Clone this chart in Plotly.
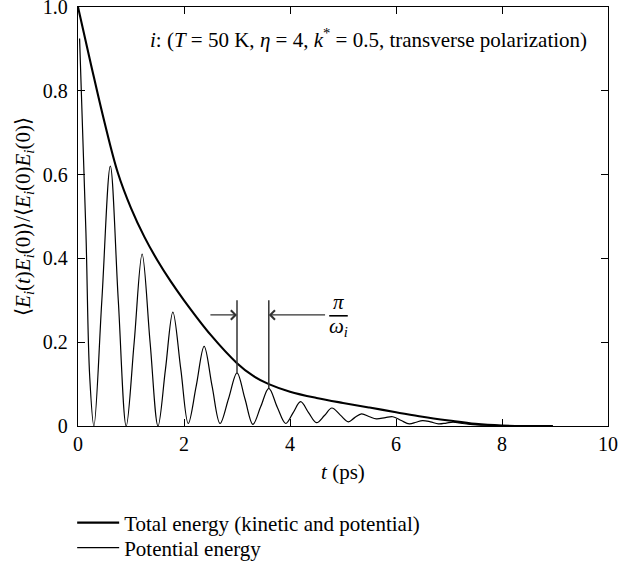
import plotly.graph_objects as go

# ---- data ----
t_total = [0, 0.25, 0.5, 0.75, 1.0, 1.25, 1.5, 1.75, 2.0, 2.5,
           3.0, 3.3, 3.6, 4.0, 4.5, 5.0, 5.5, 6.0, 6.5, 7.0, 7.5, 8.0, 8.5, 8.96]
e_total = [1.0, 0.86, 0.725, 0.605, 0.52, 0.452, 0.395, 0.345, 0.30, 0.218,
           0.150, 0.120, 0.100, 0.082, 0.067, 0.055, 0.044, 0.033, 0.022, 0.013,
           0.005, 0.001, 0.0, 0.0]

t_pot = [0.03, 0.15, 0.22, 0.30, 0.45, 0.61, 0.76, 0.91, 1.06, 1.21, 1.36, 1.51, 1.65,
         1.79, 1.94, 2.08, 2.23, 2.38, 2.53, 2.68, 2.84, 3.0, 3.15, 3.30, 3.45, 3.60,
         3.76, 3.92, 4.06, 4.20, 4.35, 4.50, 4.65, 4.79, 4.95, 5.10, 5.22, 5.35, 5.50,
         5.63, 5.80, 5.94, 6.10, 6.25, 6.38, 6.50, 6.65, 6.80, 6.95, 7.08, 7.25, 7.4,
         7.7, 8.0, 8.5, 8.96]
e_pot = [0.925, 0.46, 0.12, 0.0, 0.30, 0.62, 0.30, 0.0, 0.20, 0.41, 0.20, 0.0, 0.135,
         0.272, 0.135, 0.006, 0.095, 0.19, 0.095, 0.006, 0.065, 0.127, 0.065, 0.004,
         0.047, 0.09, 0.045, 0.006, 0.032, 0.058, 0.032, 0.008, 0.025, 0.043, 0.026,
         0.010, 0.020, 0.029, 0.022, 0.017, 0.020, 0.022, 0.013, 0.005, 0.009, 0.013,
         0.010, 0.005, 0.007, 0.009, 0.006, 0.004, 0.002, 0.001, 0.0, 0.0]

x_ticks = [0, 2, 4, 6, 8, 10]
x_ticktext = ["0", "2", "4", "6", "8", "10"]
y_ticks = [0, 0.2, 0.4, 0.6, 0.8, 1.0]
y_ticktext = ["0", "0.2", "0.4", "0.6", "0.8", "1.0"]

names = ["Total energy (kinetic and potential)", "Potential energy"]

# period markers (pi / omega_i)
marker_t = [3.0, 3.6]
marker_bottom = [0.127, 0.09]
marker_top = 0.30

FONT = "Liberation Serif, Times New Roman, serif"
FS = 20

fig = go.Figure()
fig.add_trace(go.Scatter(x=t_total, y=e_total, mode="lines", name=names[0], legend="legend",
                         line=dict(color="black", width=2.1, shape="spline", smoothing=1.0)))
fig.add_trace(go.Scatter(x=t_pot, y=e_pot, mode="lines", name=names[1], legend="legend2",
                         line=dict(color="black", width=1.2, shape="spline", smoothing=1.0)))

for tt, yb in zip(marker_t, marker_bottom):
    fig.add_shape(type="line", x0=tt, x1=tt, y0=yb, y1=marker_top,
                  line=dict(color="#333333", width=1.5))

# arrows
fig.add_annotation(x=marker_t[0], y=0.265, ax=2.47, ay=0.265, axref="x", ayref="y",
                   text="", showarrow=True, arrowhead=4, arrowsize=1.4, arrowwidth=1.3,
                   arrowcolor="#333333", standoff=0)
fig.add_annotation(x=marker_t[1], y=0.265, ax=4.69, ay=0.265, axref="x", ayref="y",
                   text="", showarrow=True, arrowhead=4, arrowsize=1.4, arrowwidth=1.3,
                   arrowcolor="#333333", standoff=0)
# pi / omega_i fraction
fig.add_annotation(x=4.91, y=0.297, text="<i>π</i>", showarrow=False,
                   font=dict(family=FONT, size=FS + 1, color="black"))
fig.add_shape(type="line", x0=4.74, x1=5.09, y0=0.263, y1=0.263,
              line=dict(color="black", width=1.6))
fig.add_annotation(x=4.91, y=0.236, text="<i>ω<sub>i</sub></i>", showarrow=False,
                   font=dict(family=FONT, size=FS + 1, color="black"))

fig.add_annotation(x=9.64, y=0.925, xanchor="right",
                   text="<i>i</i>: (<i>T</i> = 50 K, <i>η</i> = 4, <i>k</i><sup>*</sup> = 0.5, transverse polarization)",
                   showarrow=False, font=dict(family=FONT, size=FS + 1, color="black"))

axis_common = dict(showline=True, linecolor="black", linewidth=1.3, mirror="allticks",
                   ticks="inside", ticklen=7, tickwidth=1.2, tickcolor="black",
                   showgrid=False, zeroline=False, automargin=False,
                   tickfont=dict(family=FONT, size=FS, color="black"))

fig.update_xaxes(range=[0, 10], tickvals=x_ticks, ticktext=x_ticktext,
                 ticklabeloverflow="allow",
                 title=dict(text="<i>t</i> (ps)", font=dict(family=FONT, size=FS + 1, color="black"),
                            standoff=10),
                 **axis_common)
fig.update_yaxes(range=[0, 1.0], tickvals=y_ticks, ticktext=y_ticktext,
                 ticklabelstandoff=5, ticklabeloverflow="allow",
                 title=dict(text="⟨<i>E<sub>i</sub></i>(<i>t</i>)<i>E<sub>i</sub></i>(0)⟩/⟨<i>E<sub>i</sub></i>(0)<i>E<sub>i</sub></i>(0)⟩",
                            font=dict(family=FONT, size=FS + 1, color="black"), standoff=6),
                 **axis_common)

leg_common = dict(xanchor="left", yanchor="middle", bgcolor="rgba(0,0,0,0)",
                  font=dict(family=FONT, size=FS + 1, color="black"), itemwidth=42)
fig.update_layout(
    width=639, height=569,
    margin=dict(l=78, r=31, t=7, b=143, autoexpand=False),
    plot_bgcolor="white", paper_bgcolor="white",
    font=dict(family=FONT, size=FS, color="black"),
    legend=dict(x=-0.011, y=-(523 - 426) / 419, **leg_common),
    legend2=dict(x=-0.011, y=-(548 - 426) / 419, **leg_common),
    showlegend=True,
)

fig.write_html("out.html")
